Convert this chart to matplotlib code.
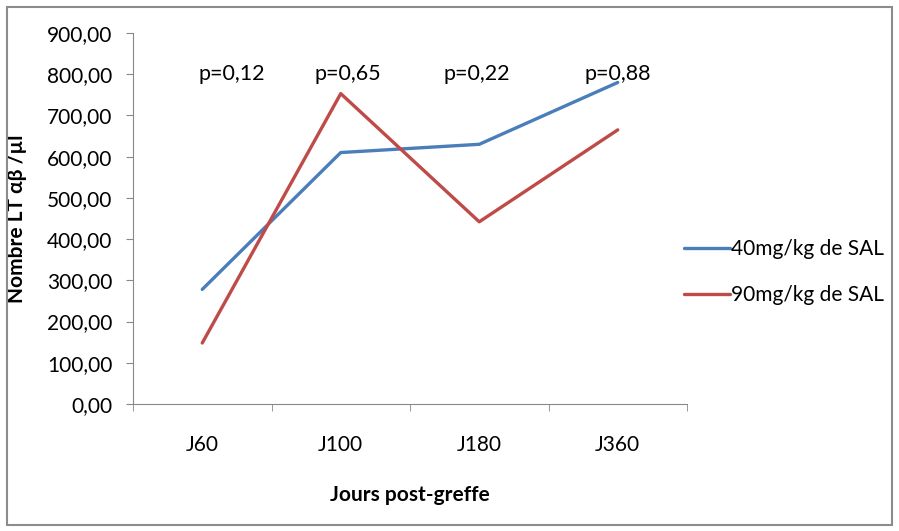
import numpy as np
import matplotlib.pyplot as plt
from matplotlib.patches import Rectangle
from matplotlib.ticker import FuncFormatter

plt.rcParams['font.family'] = ['Lato', 'DejaVu Sans']

categories = ["J60", "J100", "J180", "J360"]
sal_40 = [278, 610, 630, 780]
sal_90 = [148, 753, 442, 665]
p_labels = ["p=0,12", "p=0,65", "p=0,22", "p=0,88"]
p_offsets = [0.21, 0.05, -0.02, 0.0]

fig = plt.figure(figsize=(8.99, 5.31), dpi=100)
ax = fig.add_axes([133 / 899, 1 - 404 / 531, 554 / 899, 371 / 531])

x = np.arange(len(categories))
ax.plot(x, sal_40, color="#4A7EBB", lw=2.4, label="40mg/kg de SAL", solid_capstyle="round")
ax.plot(x, sal_90, color="#BE4B48", lw=2.4, label="90mg/kg de SAL", solid_capstyle="round")

for i, (lab, off) in enumerate(zip(p_labels, p_offsets)):
    ax.text(i + off, 800, lab, ha="center", va="center", fontsize=15.5, color="black")

ax.set_xlim(-0.5, len(categories) - 0.5)
ax.set_ylim(0, 900)
ax.set_yticks(np.arange(0, 901, 100))
ax.yaxis.set_major_formatter(FuncFormatter(lambda v, _: f"{v:.2f}".replace(".", ",")))
ax.set_xticks(x)
ax.set_xticklabels(categories)
ax.set_xticks(np.arange(-0.5, len(categories)), minor=True)
ax.tick_params(axis="x", which="major", length=0, pad=22, labelsize=15)
ax.tick_params(axis="x", which="minor", length=5, color="#888888", direction="out")
ax.tick_params(axis="y", length=5, color="#888888", labelsize=15, pad=10)

for s in ["top", "right"]:
    ax.spines[s].set_visible(False)
for s in ["left", "bottom"]:
    ax.spines[s].set_color("#888888")

ax.set_xlabel("Jours post-greffe", fontsize=15, fontweight="bold", labelpad=22)
ax.set_ylabel("Nombre LT αβ /µl", fontsize=15, fontweight="bold")
ax.yaxis.set_label_coords(-(133 - 27) / 554, 0.5)

ax.legend(loc="center left", bbox_to_anchor=(0.995, 0.355), frameon=False, fontsize=15,
          handlelength=2.2, handletextpad=0.05, labelspacing=1.25,
          borderpad=0, borderaxespad=0)

fig.patches.append(Rectangle((7 / 899, 6 / 531), 885 / 899, 518 / 531, transform=fig.transFigure,
                             fill=False, edgecolor="#8c8c8c", lw=1.5))

fig.savefig("out.png", dpi=100)
